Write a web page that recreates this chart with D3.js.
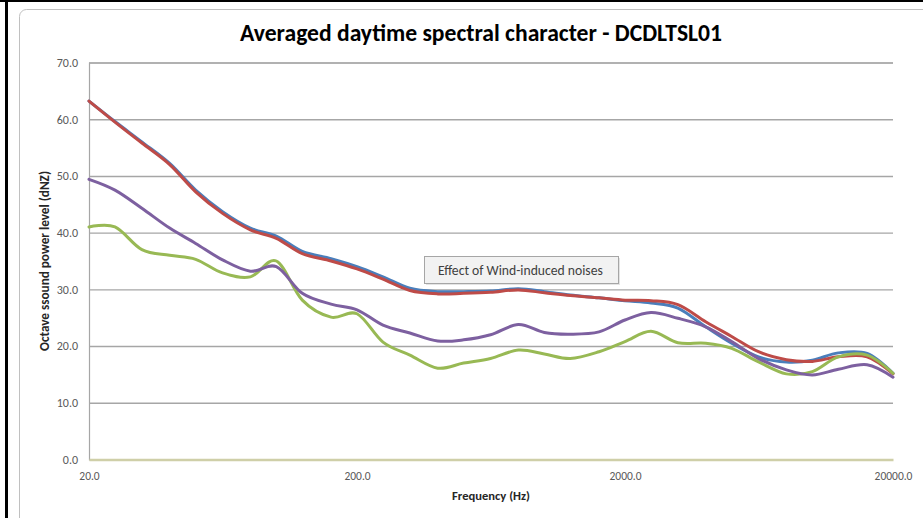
<!DOCTYPE html>
<html>
<head>
<meta charset="utf-8">
<script src="https://cdn.jsdelivr.net/npm/d3@7"></script>
<style>
  html, body { margin: 0; padding: 0; background: #fff; }
  svg { display: block; }
  text { font-family: Carlito, Calibri, Lato, "Open Sans", sans-serif; }
</style>
</head>
<body>
<svg id="chart" width="923" height="518"></svg>
<script>
// One-third octave band centre frequencies (Hz)
const frequencies = [20, 25, 31.5, 40, 50, 63, 80, 100, 125, 160, 200, 250, 315, 400, 500,
  630, 800, 1000, 1250, 1600, 2000, 2500, 3150, 4000, 5000, 6300, 8000, 10000, 12500, 16000, 20000];

// Averaged daytime levels per band (dNZ)
const levelsBlue = [63.2, 59.6, 56.0, 52.2, 47.5, 43.7, 40.8, 39.4, 36.7, 35.4, 34.0, 32.2, 30.2, 29.6, 29.6,
  29.7, 30.1, 29.6, 29.0, 28.5, 28.0, 27.6, 26.7, 23.4, 20.5, 18.1, 17.2, 17.5, 18.8, 18.7, 15.2];
const levelsRed = [63.2, 59.5, 55.8, 52.0, 47.2, 43.4, 40.5, 39.0, 36.3, 35.0, 33.6, 31.8, 29.8, 29.2, 29.3,
  29.5, 29.9, 29.4, 28.9, 28.5, 28.1, 28.0, 27.3, 24.3, 21.7, 19.0, 17.6, 17.3, 18.1, 18.1, 15.1];
const levelsGreen = [41.0, 41.0, 37.0, 36.0, 35.3, 32.9, 32.2, 35.0, 28.1, 25.1, 25.7, 20.7, 18.4, 16.1, 17.0,
  17.8, 19.3, 18.6, 17.8, 19.0, 20.8, 22.6, 20.6, 20.5, 19.6, 17.2, 15.1, 15.5, 18.1, 18.4, 15.2];
const levelsPurple = [49.4, 47.5, 44.3, 40.8, 38.1, 35.2, 33.2, 34.0, 29.3, 27.4, 26.4, 23.7, 22.3, 20.9, 21.1,
  22.0, 23.8, 22.4, 22.1, 22.5, 24.6, 25.9, 24.9, 23.4, 20.8, 17.8, 15.8, 14.9, 15.9, 16.7, 14.5];

const yTickValues = [0, 10, 20, 30, 40, 50, 60, 70];
const xTickValues = [20, 200, 2000, 20000];

const titleText = "Averaged daytime spectral character - DCDLTSL01";
const xTitleText = "Frequency (Hz)";
const yTitleText = "Octave ssound power level (dNZ)";
const noteText = "Effect of Wind-induced noises";

const series = [
  { values: levelsBlue, color: "#4a7ebb" },
  { values: levelsRed, color: "#be4b48" },
  { values: levelsGreen, color: "#98b954" },
  { values: levelsPurple, color: "#7d60a0" }
];

const svg = d3.select("#chart");

// Outer frame
svg.append("rect").attr("x", 0).attr("y", 0).attr("width", 923).attr("height", 2).attr("fill", "#000");
svg.append("rect").attr("x", 5).attr("y", 0).attr("width", 3).attr("height", 518).attr("fill", "#000");
svg.append("rect").attr("x", 19.5).attr("y", 9.5).attr("width", 1000).attr("height", 700)
  .attr("rx", 7).attr("fill", "#fff").attr("stroke", "#c0c0c0").attr("stroke-width", 1);

const plot = { left: 89, right: 893, top: 62.5, bottom: 459.5 };

const x = d3.scaleLog().domain([20, 20000]).range([plot.left, plot.right]);
const y = d3.scaleLinear().domain([0, 70]).range([plot.bottom, plot.top]);

// Horizontal gridlines and y labels
const yAxis = d3.axisLeft(y).tickValues(yTickValues).tickSize(-(plot.right - plot.left))
  .tickPadding(11).tickFormat(d3.format(".1f"));
const gy = svg.append("g").attr("transform", `translate(${plot.left},0)`).call(yAxis);
gy.select(".domain").attr("stroke", "#a6a6a6").attr("stroke-width", 1.2);
gy.selectAll(".tick line").attr("stroke", "#a6a6a6").attr("stroke-width", 1.4);
gy.selectAll(".tick text").attr("fill", "#595959").style("font-size", "12px");
gy.selectAll(".tick").filter(d => d === 0).select("line").remove();

// Bottom axis with labels
const xAxis = d3.axisBottom(x).tickValues(xTickValues).tickSize(0).tickPadding(12)
  .tickFormat(d3.format(".1f"));
const gx = svg.append("g").attr("transform", `translate(0,${plot.bottom})`).call(xAxis);
gx.select(".domain").attr("stroke", "#cfcfa8").attr("stroke-width", 2.5);
gx.selectAll(".tick text").attr("fill", "#595959").style("font-size", "11.5px");

// Series lines
const line = d3.line()
  .x((d, i) => x(frequencies[i]))
  .y(d => y(d))
  .curve(d3.curveCardinal.tension(0));

svg.append("g").selectAll("path").data(series).join("path")
  .attr("d", s => line(s.values))
  .attr("fill", "none")
  .attr("stroke", s => s.color)
  .attr("stroke-width", 3)
  .attr("stroke-linejoin", "round")
  .attr("stroke-linecap", "round");

// Fit a text element's font size to a target width
function fitWidth(sel, target) {
  const node = sel.node();
  let size = parseFloat(sel.style("font-size"));
  for (let k = 0; k < 4; k++) {
    const w = node.getComputedTextLength();
    if (!w) break;
    size = size * target / w;
    sel.style("font-size", size + "px");
  }
}

// Title
const title = svg.append("text")
  .attr("x", 481).attr("y", 41)
  .attr("text-anchor", "middle")
  .attr("fill", "#000")
  .style("font-size", "20px").style("font-weight", "bold")
  .text(titleText);
fitWidth(title, 482);

// Axis titles
const xt = svg.append("text")
  .attr("x", (plot.left + plot.right) / 2).attr("y", 500)
  .attr("text-anchor", "middle").attr("fill", "#262626")
  .style("font-size", "12px").style("font-weight", "bold")
  .text(xTitleText);
fitWidth(xt, 78);

const yt = svg.append("text")
  .attr("transform", `translate(49,${(plot.top + plot.bottom) / 2}) rotate(-90)`)
  .attr("text-anchor", "middle").attr("fill", "#262626")
  .style("font-size", "12px").style("font-weight", "bold")
  .text(yTitleText);
fitWidth(yt, 180);

// Annotation box
const note = svg.append("g").attr("transform", "translate(424,256)");
note.append("rect").attr("x", 2).attr("y", 2).attr("width", 194).attr("height", 27)
  .attr("fill", "#d9d9d9").attr("opacity", 0.7);
note.append("rect").attr("x", 0.5).attr("y", 0.5).attr("width", 194).attr("height", 27)
  .attr("fill", "#f2f2f2").attr("stroke", "#a6a6a6").attr("stroke-width", 1);
const nt = note.append("text").attr("x", 14).attr("y", 19)
  .attr("fill", "#404040").style("font-size", "13px")
  .text(noteText);
fitWidth(nt, 165);
</script>
</body>
</html>
